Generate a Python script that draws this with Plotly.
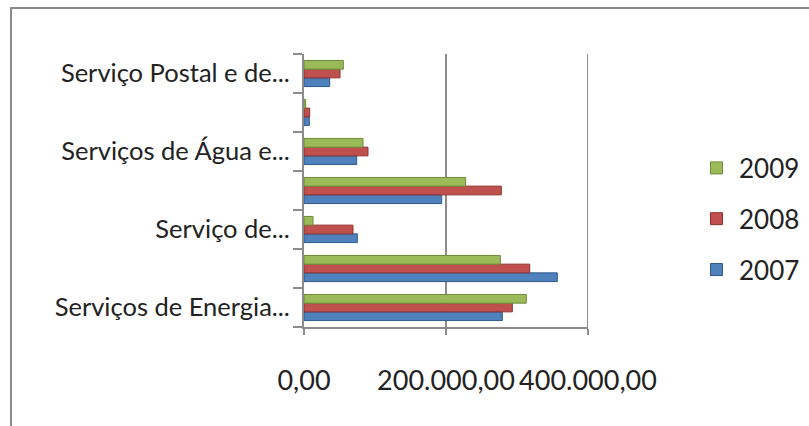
import plotly.graph_objects as go

# Category tick labels (only every other category carries a visible label)
category_labels = [
    "Serviços de Energia...",
    "",
    "Serviço de...",
    "",
    "Serviços de Água e...",
    "",
    "Serviço Postal e de...",
]
positions = list(range(len(category_labels)))

years = ["2007", "2008", "2009"]
values_2007 = [279300, 356800, 75100, 193900, 74200, 7500, 36200]
values_2008 = [293400, 317900, 69000, 277900, 90100, 8000, 50700]
values_2009 = [313100, 276500, 12700, 227700, 83100, 2400, 55400]

x_tick_values = [0, 200000, 400000]
x_tick_labels = ["0,00", "200.000,00", "400.000,00"]

series = [values_2007, values_2008, values_2009]
fill_colors = ["#4F81BD", "#C0504D", "#9BBB59"]
edge_colors = ["#2F5A8C", "#8E2F2C", "#6E8A3A"]
legend_ranks = [3, 2, 1]  # newest year listed first

FONT = "Lato"
GRID = "#8C8C8C"

W, H = 809, 426
L, R, T, B = 304, 221, 54, 99
pw, ph = W - L - R, H - T - B


def px_x(p):
    return (p - L) / pw


def px_y(p):
    return (H - B - p) / ph


fig = go.Figure()
for year, vals, fc, ec, rank in zip(years, series, fill_colors, edge_colors, legend_ranks):
    fig.add_trace(go.Bar(
        x=vals, y=positions, name=year, orientation="h",
        legendgroup=year, legendrank=rank,
        marker=dict(color=fc, line=dict(color=ec, width=1)),
    ))

fig.update_layout(
    width=W, height=H,
    margin=dict(l=L, r=R, t=T, b=B, autoexpand=False),
    paper_bgcolor="white", plot_bgcolor="white",
    barmode="group", bargap=0.33, bargroupgap=0,
    font=dict(family=FONT, size=24, color="#222222"),
    showlegend=True,
    legend=dict(
        x=px_x(694), y=px_y(219), xanchor="left", yanchor="middle",
        traceorder="grouped", tracegroupgap=14, itemwidth=35,
        font=dict(family=FONT, size=26, color="#222222"),
        bgcolor="rgba(0,0,0,0)",
    ),
    xaxis=dict(
        range=[0, 400000], tickvals=x_tick_values, ticktext=x_tick_labels,
        tickangle=0, automargin=False,
        showgrid=True, gridcolor=GRID, gridwidth=2,
        showline=True, linecolor=GRID, linewidth=2,
        ticks="outside", ticklen=6, tickcolor=GRID, tickwidth=2,
        ticklabelstandoff=23, zeroline=False,
        tickfont=dict(family=FONT, size=27, color="#222222"),
    ),
    yaxis=dict(
        range=[-0.5, len(category_labels) - 0.5],
        tickvals=positions, ticktext=category_labels,
        automargin=False,
        showgrid=False, zeroline=False,
        showline=True, linecolor=GRID, linewidth=2,
        ticks="", ticklabelstandoff=7,
        minor=dict(ticks="outside", ticklen=9, tickcolor=GRID, tickwidth=2,
                   tick0=-0.5, dtick=1, showgrid=False),
        tickfont=dict(family=FONT, size=25.5, color="#222222"),
    ),
    shapes=[
        # outer frame around the chart
        dict(type="rect", xref="paper", yref="paper",
             x0=px_x(11), x1=px_x(830), y0=px_y(8), y1=px_y(450),
             line=dict(color="#8A8A8A", width=2), layer="below"),
        # right-hand wall edge at the last gridline
        dict(type="line", xref="x", yref="paper",
             x0=x_tick_values[-1], x1=x_tick_values[-1], y0=0, y1=1,
             line=dict(color=GRID, width=2)),
    ],
)

fig.write_html("out.html")
